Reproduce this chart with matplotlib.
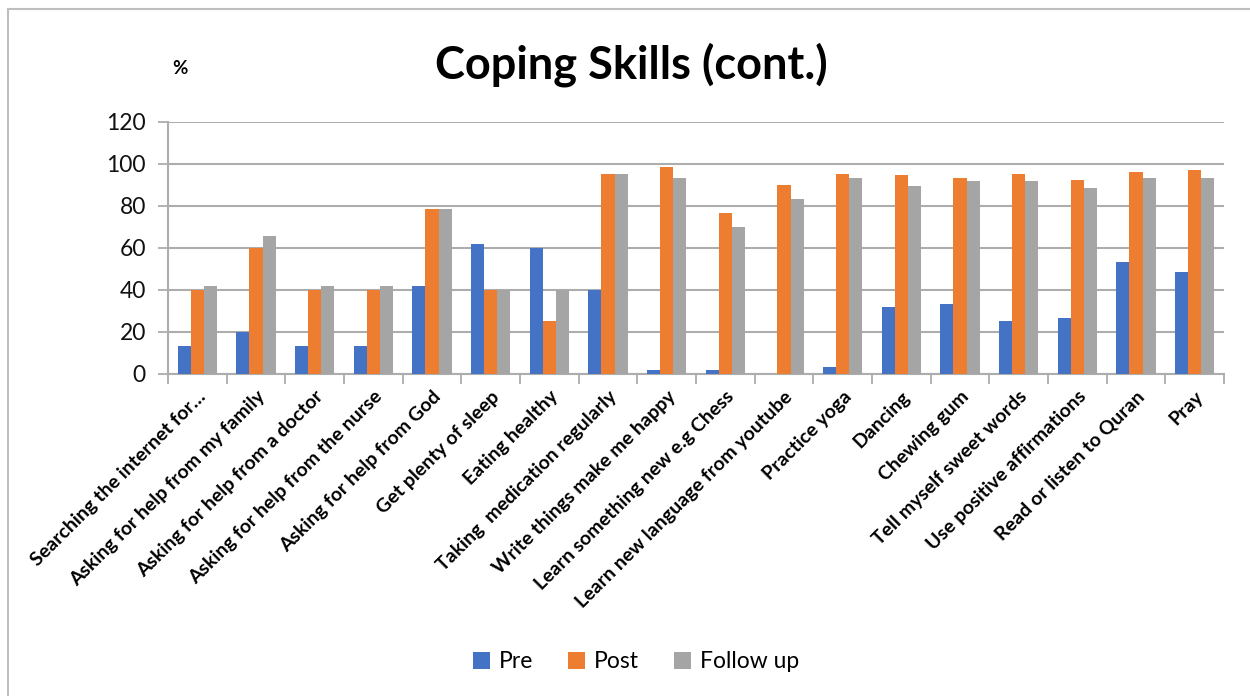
import matplotlib
matplotlib.use("Agg")
import matplotlib.pyplot as plt
from matplotlib.patches import Patch
from matplotlib.lines import Line2D
import numpy as np

plt.rcParams['font.family'] = ['Lato', 'DejaVu Sans']

categories = [
    "Searching the internet for\u2026",
    "Asking for help from my family",
    "Asking for help from a doctor",
    "Asking for help from the nurse",
    "Asking for help from God",
    "Get plenty of sleep",
    "Eating healthy",
    "Taking  medication regularly",
    "Write things make me happy",
    "Learn something new e.g Chess",
    "Learn new language from youtube",
    "Practice yoga",
    "Dancing",
    "Chewing gum",
    "Tell myself sweet words",
    "Use positive affirmations",
    "Read or listen to Quran",
    "Pray",
]
pre = [13.3, 20, 13.3, 13.3, 41.7, 61.7, 60, 40, 1.7, 1.7, 0, 3.3, 31.7, 33.3, 25, 26.7, 53.3, 48.3]
post = [40, 60, 40, 40, 78.3, 40, 25, 95, 98.3, 76.7, 90, 95, 94.4, 93.3, 95, 92.1, 96, 97]
follow_up = [41.7, 65.4, 41.7, 41.7, 78.3, 40, 40, 95, 93, 70, 83.3, 93.3, 89.3, 91.7, 91.7, 88.3, 93.3, 93.3]
series_names = ["Pre", "Post", "Follow up"]
colors = ["#4472C4", "#ED7D31", "#A5A5A5"]
yticks = [0, 20, 40, 60, 80, 100, 120]

W, H = 1250, 696
fig = plt.figure(figsize=(W / 100, H / 100), dpi=100)

# outer chart frame (top and left edges visible)
fig.add_artist(Line2D([8 / W, 8 / W], [0, 1 - 9 / H], transform=fig.transFigure,
                      color="#BFBFBF", lw=1.5))
fig.add_artist(Line2D([8 / W, 1], [1 - 9 / H, 1 - 9 / H], transform=fig.transFigure,
                      color="#BFBFBF", lw=1.5))

left, right = 168 / W, 1224 / W
bottom, top = 1 - 374 / H, 1 - 121.6 / H
ax = fig.add_axes([left, bottom, right - left, top - bottom])

x = np.arange(len(categories))
bw = 0.222
for i, (vals, c) in enumerate(zip([pre, post, follow_up], colors)):
    ax.bar(x + (i - 1) * bw, vals, width=bw, color=c, zorder=3, linewidth=0)

ax.set_xlim(-0.5, len(categories) - 0.5)
ax.set_ylim(0, 120)
ax.set_yticks(yticks)
ax.set_yticklabels([str(v) for v in yticks], fontsize=16.5, color="#111111")
ax.yaxis.grid(True, color="#ADADAD", lw=1.5, zorder=0)
ax.tick_params(axis="y", length=7, width=1.3, color="#ADADAD", pad=9)

# category boundaries carry the x ticks
ax.set_xticks(np.arange(-0.5, len(categories), 1.0), minor=False)
ax.set_xticklabels([])
ax.set_xticks(x, minor=True)
ax.set_xticklabels(categories, minor=True, rotation=45, ha="right", va="top",
                   rotation_mode="anchor", fontsize=14, fontweight="bold")
ax.tick_params(axis="x", which="major", length=7, width=1.3, color="#ADADAD")
ax.tick_params(axis="x", which="minor", length=0, pad=10)

for s in ["top", "right"]:
    ax.spines[s].set_visible(False)
ax.spines["left"].set_color("#ADADAD")
ax.spines["left"].set_linewidth(1.5)
ax.spines["bottom"].set_color("#ADADAD")
ax.spines["bottom"].set_linewidth(1.5)

fig.text(631 / W, 1 - 65 / H, "Coping Skills (cont.)", ha="center", va="center",
         fontsize=32.5, fontweight="bold")
fig.text(180 / W, 1 - 68 / H, "%", ha="center", va="center", fontsize=13.5,
         fontweight="bold")

handles = [Patch(facecolor=c, edgecolor="none") for c in colors]
fig.legend(handles, series_names, loc="center", bbox_to_anchor=(636 / W, 1 - 662 / H),
           ncol=3, frameon=False, fontsize=16.5, handlelength=0.75, handleheight=0.75,
           handletextpad=0.4, columnspacing=1.5)

fig.savefig("out.png", dpi=100)
